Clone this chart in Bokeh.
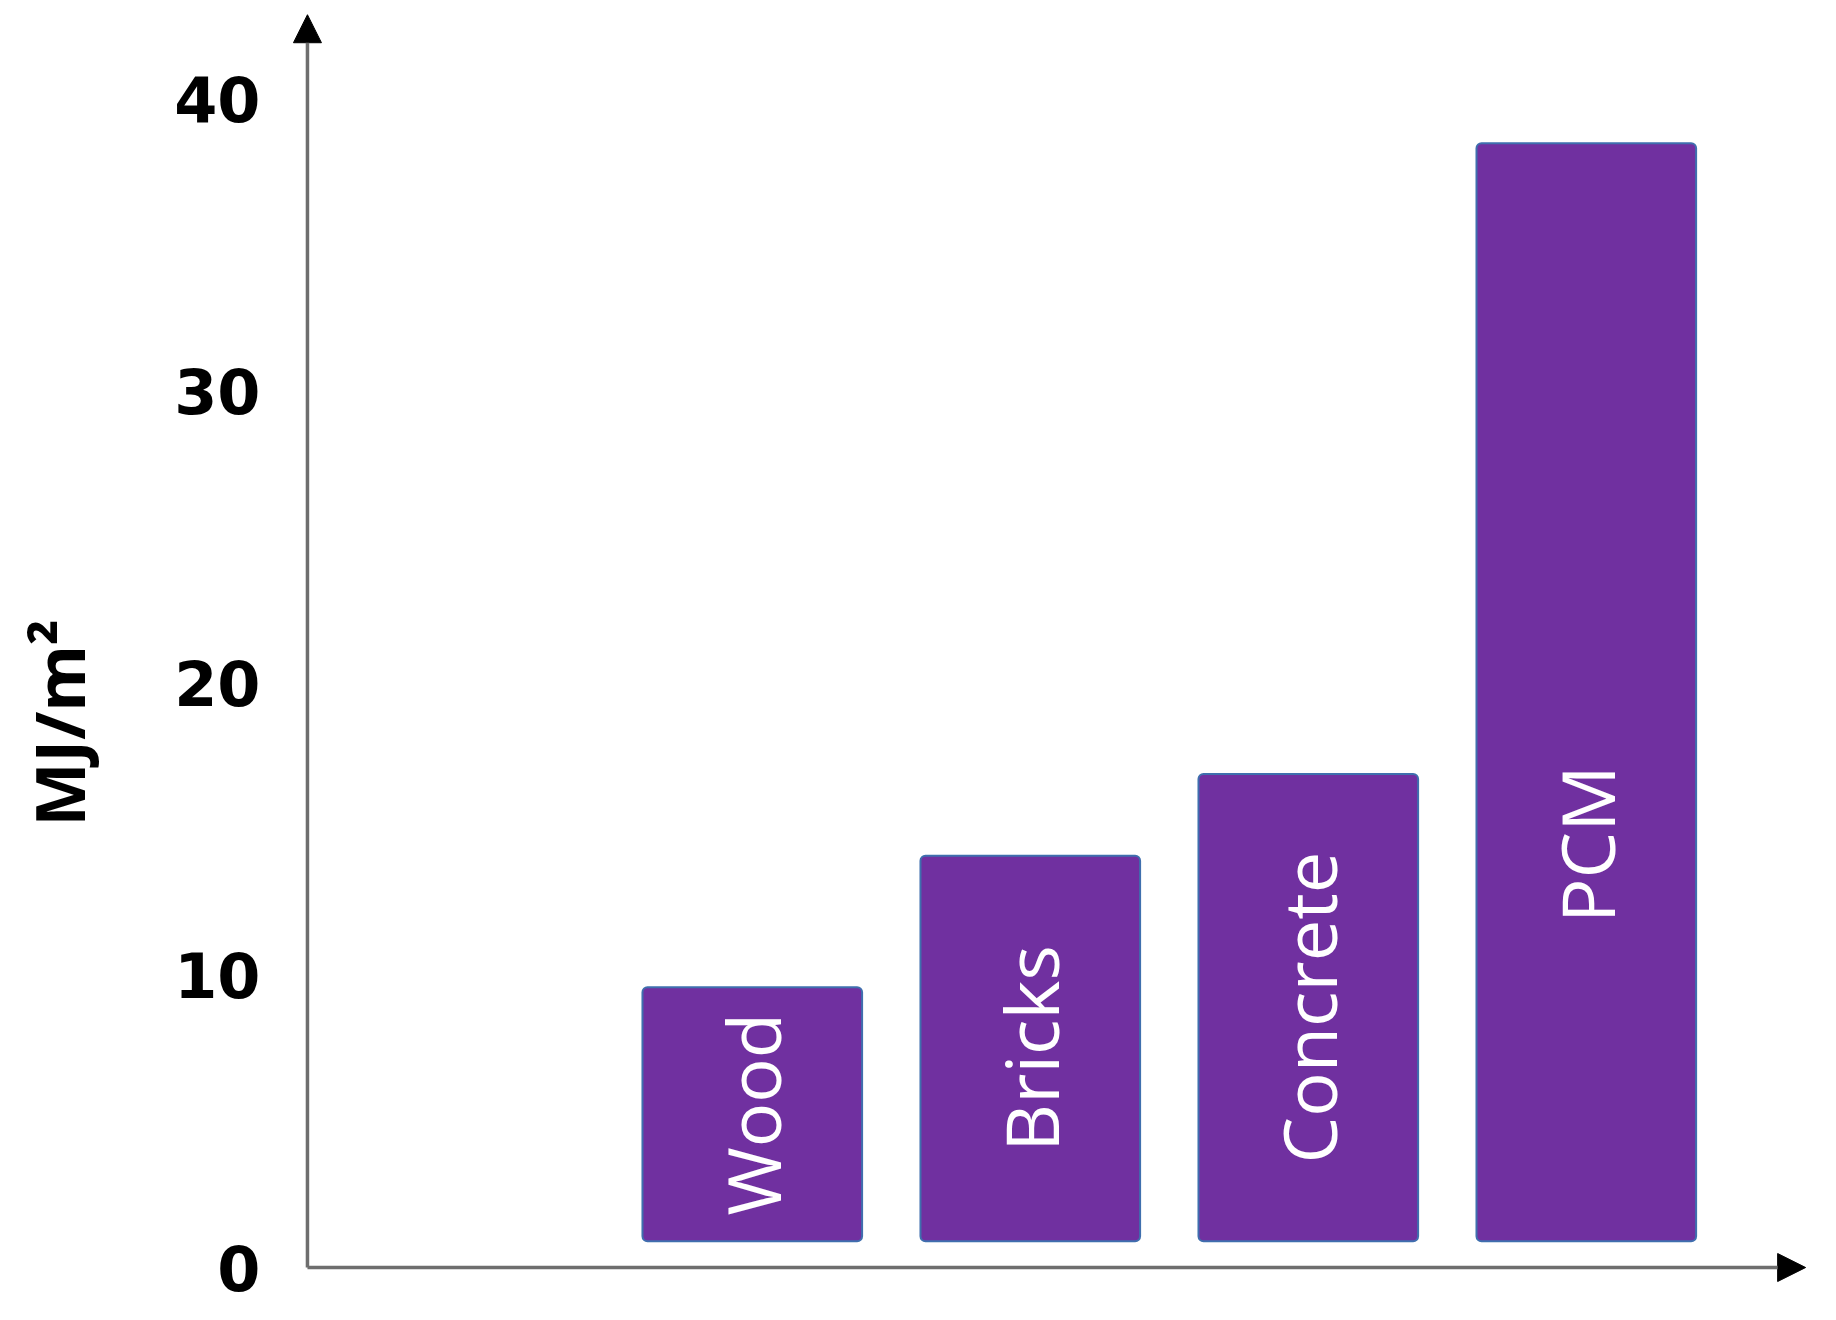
import math
from bokeh.plotting import figure
from bokeh.models import (ColumnDataSource, Range1d, Arrow, NormalHead, FixedTicker,
                          Title, LinearAxis)
from bokeh.core.properties import value
from bokeh.embed import file_html
from bokeh.resources import INLINE

# ---- data ----
categories = ["Wood", "Bricks", "Concrete", "PCM"]
values = [9.6, 14.1, 16.9, 38.5]
bar_base = 0.9
y_ticks = [0, 10, 20, 30, 40]
y_title = "MJ/m\u00b2"

x_pos = list(range(len(categories)))
label_y = [min((bar_base + v) / 2.0, 14.5) for v in values]

src = ColumnDataSource(dict(x=x_pos, top=values, bottom=[bar_base] * len(values),
                            cat=categories, ly=label_y))

# ranges (frame padded so the axis arrows are not clipped)
AX_X = -1.60          # where the vertical axis line sits
X0, X1 = -1.697, 3.864
ARROW_X_END = 3.789
Y0, Y1 = -0.65, 43.25
ARROW_Y_END = 42.9

p = figure(width=1828, height=1310, output_backend="svg", toolbar_location=None,
           x_range=Range1d(X0, X1), y_range=Range1d(Y0, Y1),
           min_border_left=280, min_border_right=2, min_border_top=4, min_border_bottom=24)
p.outline_line_color = None
p.grid.visible = False
p.xaxis.visible = False
p.background_fill_color = "white"

ya = p.yaxis[0]
ya.ticker = FixedTicker(ticks=y_ticks)
ya.axis_line_color = None
ya.major_tick_line_color = None
ya.minor_tick_line_color = None
ya.major_label_standoff = 14
ya.major_label_text_font = "DejaVu Sans"
ya.major_label_text_font_style = "bold"
ya.major_label_text_font_size = "62px"
ya.major_label_text_color = "black"

# blank spacer axis between the tick labels and the axis title
spacer = LinearAxis(ticker=FixedTicker(ticks=[0]), axis_line_color=None,
                    major_tick_line_color=None, minor_tick_line_color=None,
                    major_tick_out=67, minor_tick_out=0, major_tick_in=0, minor_tick_in=0,
                    major_label_standoff=0, major_label_overrides={0: ""})
p.add_layout(spacer, "left")

p.vbar(x="x", top="top", bottom="bottom", width=0.79, source=src,
       fill_color="#7030A0", line_color="#3F6FAE", line_width=2, border_radius=5)

p.text(x="x", y="ly", text="cat", source=src, angle=math.pi / 2,
       text_align="center", text_baseline="middle", text_color="white",
       text_font=value("Open Sans"), text_font_size="74px")

# y-axis title (left-side title, positioned along the side)
p.add_layout(Title(text=y_title, align="left", offset=460, vertical_align="bottom",
                   standoff=0, text_font="Open Sans", text_font_style="bold",
                   text_font_size="68px", text_color="black"), "left")

# axes with arrowheads
p.add_layout(Arrow(x_start=AX_X, y_start=0, x_end=ARROW_X_END, y_end=0,
                   line_color="#6e6e6e", line_width=3.5,
                   end=NormalHead(size=28, fill_color="black", line_color="black")))
p.add_layout(Arrow(x_start=AX_X, y_start=0, x_end=AX_X, y_end=ARROW_Y_END,
                   line_color="#6e6e6e", line_width=3.5,
                   end=NormalHead(size=28, fill_color="black", line_color="black")))

open("out.html", "w").write(file_html(p, INLINE))
